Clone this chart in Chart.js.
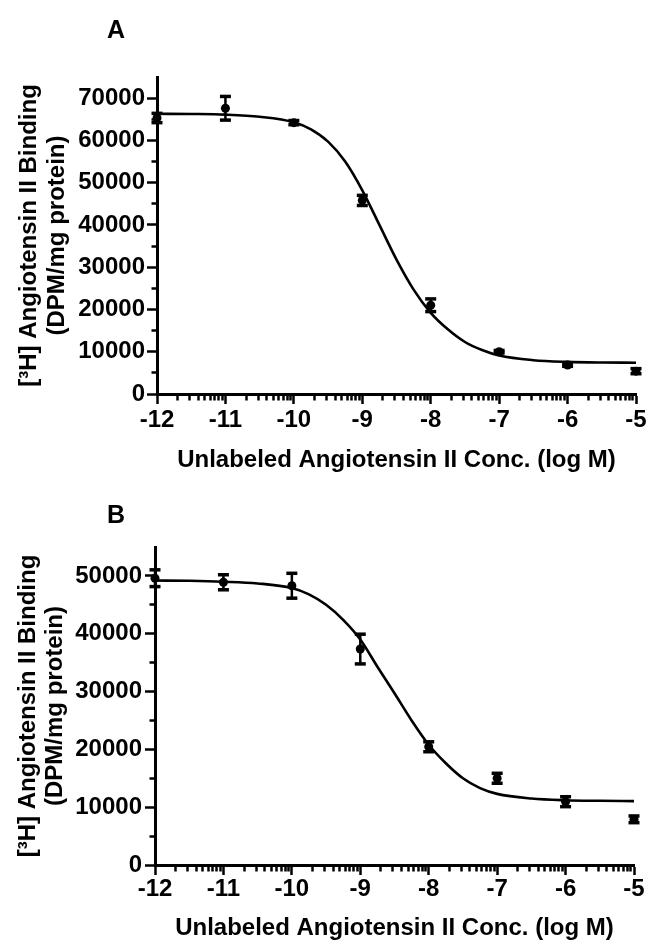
<!DOCTYPE html>
<html><head><meta charset="utf-8">
<script src="https://cdn.jsdelivr.net/npm/chart.js@4"></script>
<style>
html,body{margin:0;padding:0;background:#fff;}
#wrap{position:relative;width:650px;height:946px;overflow:hidden;background:#fff;}
.panel{position:absolute;left:0;}
.lbl{position:absolute;font:bold 25px 'Liberation Sans', Arial, sans-serif;line-height:25px;color:#000;}
</style></head><body>
<div id="wrap">
<canvas id="cA" class="panel" width="650" height="480" style="top:0px"></canvas>
<canvas id="cB" class="panel" width="650" height="466" style="top:480px"></canvas>
<div class="lbl" style="left:107px;top:17px">A</div>
<div class="lbl" style="left:107px;top:502px">B</div>
</div>
<script>
// ---- data ----
const logConc = [-12, -11, -10, -9, -8, -7, -6, -5];
const xTickLabels = ['-12', '-11', '-10', '-9', '-8', '-7', '-6', '-5'];
const bindingA = [65300, 67600, 64200, 45800, 21000, 10000, 6850, 5400];
const semA = [1100, 2800, 500, 1200, 1500, 300, 300, 600];
const bindingB = [49600, 48900, 48300, 37350, 20450, 15000, 10950, 7900];
const semB = [1450, 1300, 2150, 2570, 860, 860, 860, 580];
const fitX = [-12, -11.5, -11, -10.5, -10, -9.75, -9.5, -9.25, -9, -8.75, -8.5, -8.25, -8, -7.75, -7.5, -7.25, -7, -6.5, -6, -5.5, -5];
const fitA = [66300, 66250, 66100, 65600, 64300, 62600, 59700, 55000, 48200, 40000, 31800, 24700, 19200, 15300, 12300, 10400, 9100, 8000, 7600, 7450, 7400];
const fitB = [49200, 49150, 49000, 48700, 47900, 46800, 45000, 42400, 39000, 34300, 29700, 25000, 20800, 17600, 15000, 13300, 12300, 11500, 11200, 11100, 11050];
const yTitle = ['[\u00B3H] Angiotensin II Binding', '(DPM/mg protein)'];
const xTitle = 'Unlabeled Angiotensin II Conc. (log M)';

const FONT = "'Liberation Sans', Arial, Helvetica, sans-serif";

// log-scale minor tick positions inside each decade
const xTickValues = [];
logConc.forEach((d, i) => {
  xTickValues.push(d);
  if (i < logConc.length - 1) {
    for (let k = 2; k <= 9; k++) xTickValues.push(d + Math.log10(k));
  }
});
function majorIndex(v) {
  for (let i = 0; i < logConc.length; i++) if (Math.abs(v - logConc[i]) < 1e-9) return i;
  return -1;
}

function makePanel(id, vals, errs, fit, yMax, g) {
  const pts = logConc.map((x, i) => ({x: x, y: vals[i]}));
  const err = [];
  logConc.forEach((x, i) => {
    err.push({x: x, y: vals[i] - errs[i]}, {x: x, y: vals[i] + errs[i]}, {x: x, y: null});
  });
  const curve = fitX.map((x, i) => ({x: x, y: fit[i]}));
  new Chart(document.getElementById(id), {
    type: 'line',
    data: { datasets: [
      { data: curve, borderColor: '#000', borderWidth: 2.6, pointRadius: 0, cubicInterpolationMode: 'monotone', fill: false, clip: false },
      { data: err, spanGaps: false, borderColor: '#000', borderWidth: 2.5, pointStyle: 'line', pointRadius: 5.5,
        pointBorderWidth: 3.5, pointBorderColor: '#000', pointBackgroundColor: '#000', fill: false, clip: false },
      { data: pts, showLine: false, pointStyle: 'circle', pointRadius: 4.5, pointBorderWidth: 0,
        pointBackgroundColor: '#000', pointBorderColor: '#000', clip: false }
    ]},
    options: {
      responsive: false, animation: false, events: [],
      layout: { padding: { top: g.top, right: g.right, left: 0, bottom: 0 } },
      plugins: { legend: {display: false}, tooltip: {enabled: false}, title: {display: false} },
      scales: {
        x: {
          type: 'linear', min: -12, max: -5, position: 'bottom',
          afterBuildTicks: s => { s.ticks = xTickValues.map(v => ({value: v})); },
          afterFit: s => { s.height = g.xHeight; },
          border: { display: true, color: '#000', width: 3 },
          grid: { drawOnChartArea: false, drawTicks: true, tickLength: 10, tickWidth: 2.5, tickColor: '#000',
            tickBorderDash: c => (c.tick && majorIndex(c.tick.value) >= 0) ? [] : [4.5, 30] },
          ticks: { autoSkip: false, maxRotation: 0, minRotation: 0, padding: g.xTickPad, color: '#000',
            font: {family: FONT, size: 24, weight: 'bold'},
            callback: v => { const i = majorIndex(v); return i >= 0 ? xTickLabels[i] : ''; } },
          title: { display: true, text: xTitle, color: '#000', font: {family: FONT, size: 24, weight: 'bold'},
            padding: {top: 0, bottom: g.xTitlePad} }
        },
        y: {
          type: 'linear', min: 0, max: yMax, position: 'left',
          afterFit: s => { s.width = g.yWidth; },
          border: { display: true, color: '#000', width: 3 },
          grid: { drawOnChartArea: false, drawTicks: true, tickLength: 10, tickWidth: 2.5,
            tickColor: c => (c.tick && c.tick.value === yMax) ? 'rgba(0,0,0,0)' : '#000',
            tickBorderDash: c => (c.tick && c.tick.value % 10000 === 0) ? [] : [0, 4.5, 10, 30] },
          ticks: { stepSize: 5000, autoSkip: false, padding: g.yTickPad, color: '#000',
            font: {family: FONT, size: 24, weight: 'bold'},
            callback: v => (v % 10000 === 0 ? String(v) : '') },
          title: { display: true, text: yTitle, color: '#000',
            font: {family: FONT, size: 24, weight: 'bold', lineHeight: g.yTitleLH},
            padding: {top: g.yTitlePad, bottom: 0} }
        }
      }
    }
  });
}

makePanel('cA', bindingA, semA, fitA, 75000,
  {top: 77, right: 14, yWidth: 157, xHeight: 86, xTickPad: 1.5, xTitlePad: 5.5, yTickPad: 2, yTitlePad: 15, yTitleLH: '28px'});
makePanel('cB', bindingB, semB, fitB, 55000,
  {top: 67, right: 16, yWidth: 155, xHeight: 81, xTickPad: 0, xTitlePad: 3, yTickPad: 3, yTitlePad: 14.5, yTitleLH: '27.5px'});
</script>
</body></html>
